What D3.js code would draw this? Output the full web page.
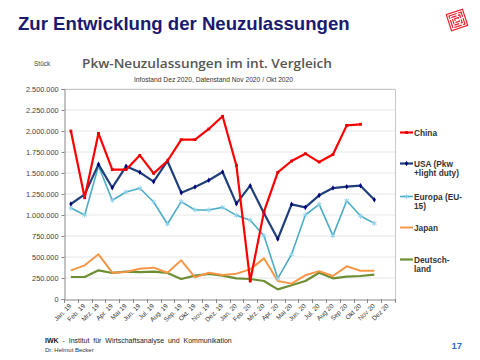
<!DOCTYPE html>
<html><head><meta charset="utf-8">
<script src="https://cdn.jsdelivr.net/npm/d3@7/dist/d3.min.js"></script>
<style>body{margin:0;background:#fff;}svg{display:block;}</style>
</head><body>
<svg id="c" width="480" height="360"></svg>
<script>
const months = ["Jan. 19","Feb. 19","Mrz. 19","Apr. 19","Mai 19","Jun. 19","Jul. 19","Aug. 19","Sep. 19","Okt. 19","Nov. 19","Dez. 19",
  "Jan. 20","Feb. 20","Mrz. 20","Apr. 20","Mai 20","Jun. 20","Jul. 20","Aug 20","Sep 20","Okt 20","Nov 20","Dez 20"];
const china = [2000000,1205000,1972000,1540000,1540000,1710000,1496000,1643000,1897000,1897000,2024000,2175000,
  1590000,214000,1040000,1508000,1643000,1730000,1630000,1720000,2067000,2080000,null,null];
const usa = [1131000,1246000,1603000,1325000,1580000,1508000,1397000,1643000,1266000,1333000,1413000,1512000,
  1135000,1349000,1020000,714000,1127000,1091000,1234000,1321000,1337000,1349000,1182000,null];
const europa = [1083000,1000000,1583000,1175000,1274000,1318000,1155000,893000,1159000,1060000,1060000,1091000,
  996000,937000,754000,246000,532000,1000000,1127000,754000,1170000,988000,900000,null];
const japan = [341000,401000,532000,313000,321000,361000,373000,313000,460000,258000,313000,286000,
  302000,353000,484000,214000,183000,282000,332000,274000,389000,337000,337000,null];
const deutschland = [262000,262000,341000,310000,325000,321000,325000,310000,238000,278000,298000,278000,
  246000,238000,214000,115000,163000,214000,313000,246000,266000,274000,290000,null];
const yTicks = [0,250000,500000,750000,1000000,1250000,1500000,1750000,2000000,2250000,2500000];
const seriesNames = ["China","USA (Pkw\n+light duty)","Europa (EU-\n15)","Japan","Deutsch-\nland"];

const svg = d3.select("#c");
const L = 64, R = 395, T = 89, B = 299;
const x = d3.scaleBand().domain(months).range([L, R]).padding(0);
const y = d3.scaleLinear().domain([0, 2500000]).range([B, T]);
const loc = d3.formatLocale({decimal:",", thousands:".", grouping:[3], currency:["","€"]});
const fmt = loc.format(",d");

// Title
svg.append("text").attr("x",18).attr("y",29.5).attr("font-family","Liberation Sans, Arial, sans-serif")
  .attr("font-weight","bold").attr("font-size",18.6).attr("fill","#1a1a6e").text("Zur Entwicklung der Neuzulassungen");

// Logo
const logo = svg.append("g").attr("transform","translate(457,20) rotate(-18)");
logo.append("rect").attr("x",-8.5).attr("y",-8.5).attr("width",17).attr("height",17).attr("fill","#fff").attr("stroke","#e8202a").attr("stroke-width",1.2);
[6.3,4.1,1.9].forEach((s,i)=>{
  logo.append("rect").attr("x",-s).attr("y",-s).attr("width",2*s).attr("height",2*s)
    .attr("fill","none").attr("stroke","#e8202a").attr("stroke-width",1.2).attr("stroke-dasharray", i===0?"8 1.5":"5 1.5");
});

// Chart headings
svg.append("text").attr("x",34).attr("y",66).attr("font-family","Liberation Sans, Arial, sans-serif")
  .attr("font-size",6.5).attr("fill","#444").text("Stück");
svg.append("text").attr("x",82).attr("y",67.5).attr("font-family","Open Sans, sans-serif").attr("font-weight",600)
  .attr("font-size",13).attr("fill","#555").attr("textLength",250).attr("lengthAdjust","spacingAndGlyphs")
  .text("Pkw-Neuzulassungen im int. Vergleich");
svg.append("text").attr("x",134).attr("y",81.5).attr("font-family","Liberation Sans, Arial, sans-serif")
  .attr("font-size",6.4).attr("fill","#333").attr("textLength",159).attr("lengthAdjust","spacingAndGlyphs")
  .text("Infostand Dez 2020, Datenstand Nov 2020 / Okt 2020");

// Grid
svg.append("g").selectAll("line").data(yTicks.filter(d=>d>0)).join("line")
  .attr("x1",L).attr("x2",R).attr("y1",d=>y(d)).attr("y2",d=>y(d))
  .attr("stroke","#e6e6e6").attr("stroke-width",1);
// plot frame top/right
svg.append("path").attr("d",`M${L},${T}.5H${R}.5V${B}`).attr("fill","none").attr("stroke","#c8c8c8").attr("stroke-width",1);

// Y axis
const yAxis = d3.axisLeft(y).tickValues(yTicks).tickFormat(fmt).tickSize(3).tickPadding(3);
const gy = svg.append("g").attr("transform",`translate(${L}.5,0)`).call(yAxis);
gy.select(".domain").attr("stroke","#888");
gy.selectAll(".tick line").attr("stroke","#888");
gy.selectAll("text").attr("font-family","Liberation Sans, Arial, sans-serif").attr("font-size",7.3).attr("fill","#404040");

// X axis
const xAxis = d3.axisBottom(x).tickSize(0).tickPadding(0);
const gx = svg.append("g").attr("transform",`translate(0,${B}.5)`).call(xAxis);
gx.select(".domain").attr("stroke","#888");
gx.selectAll("text").attr("font-family","Liberation Sans, Arial, sans-serif").attr("font-size",6.5).attr("fill","#333")
  .attr("text-anchor","end").attr("dy",0).attr("transform","translate(1,7) rotate(-45)");
// boundary ticks
const edges = months.map(m=>x(m)).concat([R]);
svg.append("g").selectAll("line").data(edges).join("line")
  .attr("x1",d=>Math.round(d)+0.5).attr("x2",d=>Math.round(d)+0.5).attr("y1",B).attr("y2",B+4)
  .attr("stroke","#888");

const cx = (i)=> x(months[i]) + x.bandwidth()/2;
const series = [
  {name:seriesNames[0], values:china, line:"#ff0000", mark:"#e00000", sym:d3.symbolSquare, size:8, w:2.2},
  {name:seriesNames[1], values:usa, line:"#1f3f7a", mark:"#000080", sym:d3.symbolDiamond, size:9, w:2.2},
  {name:seriesNames[2], values:europa, line:"#4bacc6", mark:"#8fd3ea", sym:d3.symbolAsterisk, size:18, w:1.6, stroke:true},
  {name:seriesNames[3], values:japan, line:"#f79646", mark:"#f07a20", sym:d3.symbolPlus, size:11, w:2},
  {name:seriesNames[4], values:deutschland, line:"#6e8e34", mark:"#3e5a14", sym:d3.symbolPlus, size:11, w:2.2}
];

const drawOrder = [4,3,2,1,0];
drawOrder.forEach(si=>{
  const s = series[si];
  const line = d3.line().defined(d=>d!=null).x((d,i)=>cx(i)).y(d=>y(d));
  svg.append("path").datum(s.values).attr("d",line).attr("fill","none")
    .attr("stroke",s.line).attr("stroke-width",s.w).attr("stroke-linejoin","round");
  const pts = s.values.map((v,i)=>({v,i})).filter(d=>d.v!=null);
  svg.append("g").selectAll("path").data(pts).join("path")
    .attr("transform",d=>`translate(${cx(d.i)},${y(d.v)})`)
    .attr("d",d3.symbol(s.sym,s.size))
    .attr("fill",s.stroke?"none":s.mark).attr("stroke",s.stroke?s.mark:"none").attr("stroke-width",1);
});

// Legend
const legY = [132.5,163.5,196.5,227.5,259.5];
series.forEach((s,k)=>{
  const g = svg.append("g").attr("transform",`translate(0,${legY[k]})`);
  g.append("line").attr("x1",400).attr("x2",413).attr("y1",0).attr("y2",0).attr("stroke",s.line).attr("stroke-width",s.w);
  g.append("path").attr("transform","translate(406.5,0)").attr("d",d3.symbol(s.sym,s.size))
    .attr("fill",s.stroke?"none":s.mark).attr("stroke",s.stroke?s.mark:"none").attr("stroke-width",1);
  const t = g.append("text").attr("x",414).attr("y",3).attr("font-family","Liberation Sans, Arial, sans-serif")
    .attr("font-weight","bold").attr("font-size",8.3).attr("fill","#333");
  s.name.split("\n").forEach((ln,j)=>{
    t.append("tspan").attr("x",414).attr("dy",j===0?0:9.6).text(ln);
  });
});

// Footer
const f1 = svg.append("text").attr("x",45).attr("y",343).attr("font-family","Liberation Sans, Arial, sans-serif")
  .attr("font-size",7).attr("fill","#222").style("white-space","pre");
f1.append("tspan").attr("font-weight","bold").text("IWK");
f1.append("tspan").text("  -  Institut  für  Wirtschaftsanalyse  und  Kommunikation");
svg.append("text").attr("x",45).attr("y",351.5).attr("font-family","Liberation Sans, Arial, sans-serif")
  .attr("font-size",6).attr("fill","#333").text("Dr. Helmut Becker");
svg.append("text").attr("x",451.5).attr("y",349).attr("font-family","Liberation Sans, Arial, sans-serif")
  .attr("font-weight","bold").attr("font-size",9.5).attr("fill","#2a72c0").text("17");
</script>
</body></html>
